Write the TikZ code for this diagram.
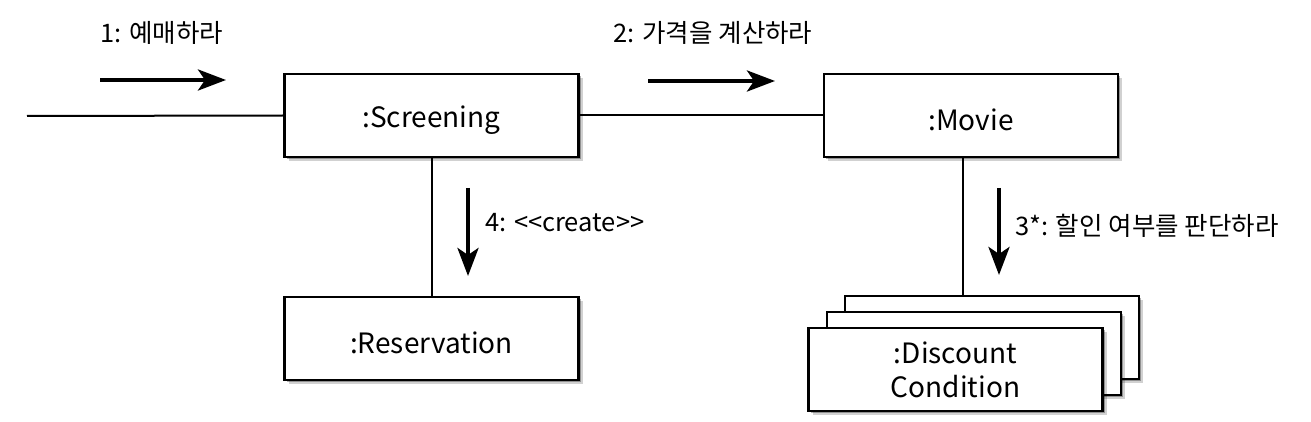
\documentclass[tikz,border=0pt]{standalone}
\usepackage{fontspec}
\setmainfont{Noto Sans CJK KR}
\usetikzlibrary{shadows,arrows.meta}
\newcommand\lowered[1]{\raisebox{-4.5pt}[\height][\depth]{#1}}
\begin{document}
\begin{tikzpicture}[x=1pt,y=-1pt,
  obj/.style={draw=black,line width=2.4pt,fill=white,minimum width=294pt,minimum height=83pt,inner sep=0pt,
    font=\fontsize{28}{34}\selectfont,align=center,
    drop shadow={shadow xshift=4pt,shadow yshift=-4pt,opacity=.18,fill=black},
    drop shadow={shadow xshift=2pt,shadow yshift=-2pt,opacity=.3,fill=black}},
  link/.style={line width=2pt},
  msg/.style={line width=4pt,-{Stealth[length=28pt,width=21pt,inset=7pt]}},
  lbl/.style={font=\fontsize{25.5}{30}\selectfont,inner sep=0pt}]
\fill[white] (0,0) rectangle (1311,422);
\useasboundingbox (0,0) rectangle (1311,422);
% objects
\node[obj] (scr) at (431.5,115.5) {\lowered{:Screening}};
\node[obj] (res) at (431.5,338.5) {\lowered{:Reservation}};
\node[obj] (mov) at (971,115.5) {\lowered{:Movie}};
\node[obj] (back) at (992,337.5) {};
\node[obj] (mid) at (974,353.5) {};
\node[obj] (front) at (955.5,369.5) {:Discount\\Condition};
% links
\coordinate (start) at (27,116);
\draw[link] (start) -- (scr.west);
\draw[link] (scr.east) -- (mov.west);
\draw[link] (scr.south) -- (res.north);
\draw[link] ([xshift=-8pt]mov.south) -- ([xshift=-8pt]mov.south |- back.north);
% message arrows
\coordinate (a1s) at (100,80); \coordinate (a1e) at (226,80);
\coordinate (a2s) at (648,81); \coordinate (a2e) at (775,81);
\coordinate (a4s) at (468,188); \coordinate (a4e) at (468,276);
\coordinate (a3s) at (999,188); \coordinate (a3e) at (999,275);
\draw[msg] (a1s) -- (a1e);
\draw[msg] (a2s) -- (a2e);
\draw[msg] (a4s) -- (a4e);
\draw[msg] (a3s) -- (a3e);
\node[lbl] (l1) at (162,33) {1: 예매하라};
\node[lbl] (l2) at (713,33) {2: 가격을 계산하라};
\node[lbl,anchor=west] (l4) at (485,223) {4: {<}{<}create{>}{>}};
\node[lbl,anchor=west] (l3) at (1015,226) {3*: 할인 여부를 판단하라};
\end{tikzpicture}
\end{document}
